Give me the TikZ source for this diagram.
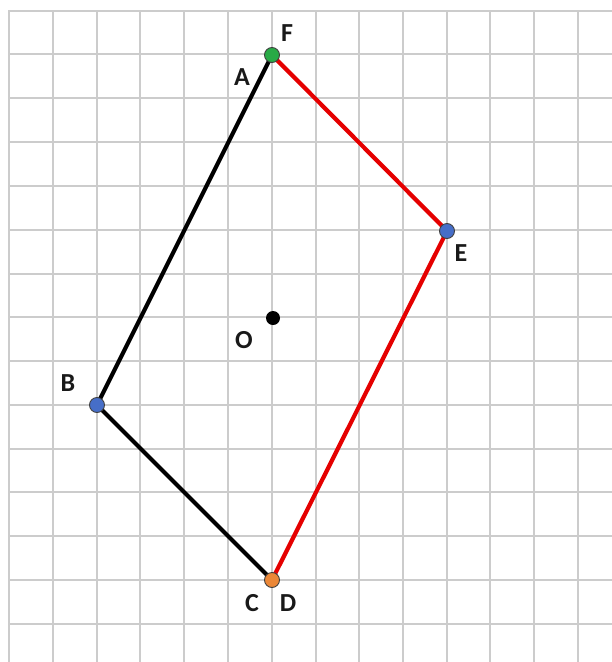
\documentclass[tikz,border=0pt]{standalone}
\usepackage{fontspec}
\setmainfont{Carlito}
\begin{document}
\begin{tikzpicture}[x=1pt,y=-1pt,
  gridline/.style={draw=black!20,line width=2pt},
  seg/.style={line width=4.2pt},
  dot/.style={circle,draw=black!75,line width=0.9pt,inner sep=0pt,minimum size=15pt},
  lbl/.style={font=\bfseries\fontsize{26}{26}\selectfont,text=black!90}]
\useasboundingbox (0,0) rectangle (612,662);
\fill[white] (0,0) rectangle (612,662);
\foreach \xx in {9,53,97,140,184,228,272,316,359,403,447,490,534,578} \draw[gridline] (\xx,10) -- (\xx,662);
\foreach \yy in {11,54,98,142,186,230,274,317,361,405,449,492,536,580,624} \draw[gridline] (8,\yy) -- (612,\yy);
\coordinate (A) at (272,55);
\coordinate (E) at (447,231);
\coordinate (O) at (273,318);
\coordinate (B) at (97,405);
\coordinate (C) at (272,580);
\draw[seg,black] (A) -- (B) -- (C);
\draw[seg,red!90!black] (A) -- (E) -- (C);
\node[dot,fill={rgb,255:red,40;green,170;blue,70}] (pA) at (A) {};
\node[dot,fill={rgb,255:red,70;green,110;blue,200}] (pE) at (E) {};
\node[dot,fill={rgb,255:red,70;green,110;blue,200}] (pB) at (B) {};
\node[dot,fill={rgb,255:red,235;green,135;blue,55}] (pC) at (C) {};
\node[circle,fill=black,inner sep=0pt,minimum size=14pt] (pO) at (O) {};
\node[lbl] (lF) at (287,33) {F};
\node[lbl] (lA) at (242,77) {A};
\node[lbl] (lE) at (461,253) {E};
\node[lbl] (lO) at (244,340) {O};
\node[lbl] (lB) at (68,383) {B};
\node[lbl] (lC) at (252,603) {C};
\node[lbl] (lD) at (288,603) {D};
\end{tikzpicture}
\end{document}
